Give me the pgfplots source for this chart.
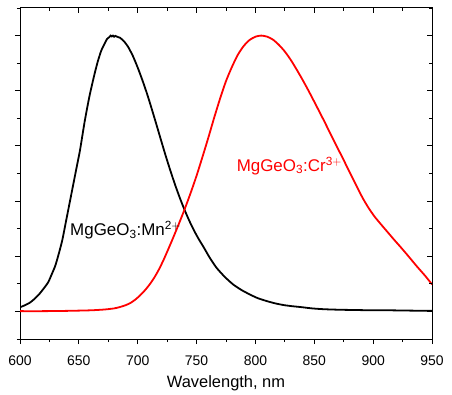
\documentclass[border=0pt]{standalone}
\usepackage{pgfplots}
\pgfplotsset{compat=1.18}
\usepackage{fontspec}
\setmainfont{Liberation Sans}
\begin{document}
\begin{tikzpicture}
\path[use as bounding box] (-20bp,-56bp) rectangle (432bp,339bp);
\pgfplotsset{
  common/.style={
    at={(0,0)}, anchor=south west,
    scale only axis, width=412bp, height=331bp,
    xmin=600, xmax=950, ymin=-0.1, ymax=1.1,
    xtick={600,650,...,950}, minor xtick={625,675,...,925},
    ytick={0,0.2,...,1.0}, minor ytick={-0.1,0.1,0.3,0.5,0.7,0.9,1.1},
    yticklabels={},
    major tick length=5bp, minor tick length=3bp,
    every tick/.style={black, line width=0.9pt},
    every minor tick/.style={black, line width=0.8pt},
    /pgf/number format/assume math mode=true,
    /pgf/number format/set thousands separator={},
    ticklabel style={font=\fontsize{14}{16}\selectfont},
  }
}
\begin{axis}[common,
  axis line style={black, line width=1pt},
  xtick pos=bottom, ytick pos=left, tick align=outside,
  xticklabel style={yshift=-8bp},
  xlabel={Wavelength, nm},
  xlabel style={font=\fontsize{16.5}{18}\selectfont, yshift=-3bp},
  clip=true]
\addplot[black, line width=1.8pt, smooth, tension=0.4] coordinates {
(600,0.015) (604,0.022) (608.5,0.032) (613,0.048) (617,0.066) (621,0.088) (624,0.106) (627,0.135) (630,0.166) (633,0.21) (636,0.26) (639,0.325) (642,0.39) (645,0.455) (648,0.52) (651,0.585) (655,0.69) (659,0.78) (663,0.855) (666,0.905) (669,0.945) (672,0.972) (674,0.988) (676,0.995) (677,1.0) (678,0.997) (679,1.0) (680,0.996) (681,0.999) (683,0.995) (685,0.992) (687,0.985) (689,0.976) (692,0.958) (696,0.925) (700,0.884) (704,0.838) (708,0.788) (712,0.733) (716,0.676) (720,0.618) (724,0.561) (728,0.507) (732,0.456) (736,0.409) (740,0.366) (744,0.327) (748,0.292) (752,0.261) (756,0.233) (761,0.196) (767,0.158) (774,0.125) (781,0.098) (788,0.078) (795,0.062) (802,0.048) (810,0.037) (817,0.029) (824,0.023) (831,0.019) (838,0.016) (848,0.011) (858,0.008) (872,0.006) (886,0.005) (900,0.004) (914,0.004) (930,0.003) (950,0.002)
};
\addplot[red, line width=1.8pt, smooth, tension=0.4] coordinates {
(600,0.001) (620,0.001) (640,0.002) (660,0.004) (672,0.007) (680,0.011) (685,0.016) (690,0.023) (694,0.031) (698,0.043) (702,0.058) (706,0.076) (710,0.097) (714,0.122) (718,0.152) (722,0.187) (726,0.226) (730,0.266) (735,0.318) (740,0.372) (745,0.43) (750,0.492) (755,0.56) (760,0.63) (765,0.703) (770,0.772) (775,0.835) (780,0.886) (785,0.93) (790,0.962) (795,0.984) (800,0.996) (805,1.0) (810,0.996) (815,0.985) (820,0.966) (825,0.942) (830,0.912) (835,0.877) (840,0.84) (845,0.801) (850,0.76) (857.7,0.696) (866.2,0.623) (874.7,0.551) (880,0.505) (886,0.454) (891,0.412) (896,0.376) (901,0.345) (906,0.319) (912,0.289) (918,0.259) (924,0.23) (930,0.2) (937,0.164) (944,0.13) (950,0.098)
};
\node[anchor=base west, inner sep=0pt, font=\fontsize{17}{19}\selectfont, text=black] at (axis cs:642.5,0.275) {MgGeO$_{\mathrm{3}}$:Mn$^{\mathrm{2+}}$};
\node[anchor=base west, inner sep=0pt, font=\fontsize{17}{19}\selectfont, text=red] at (axis cs:784,0.508) {MgGeO$_{\mathrm{3}}$:Cr$^{\mathrm{3+}}$};
\end{axis}
\begin{axis}[common,
  axis line style={draw=none},
  xtick pos=top, ytick pos=right, tick align=inside,
  xticklabels={}, yticklabels={}]
\end{axis}
\end{tikzpicture}
\end{document}
